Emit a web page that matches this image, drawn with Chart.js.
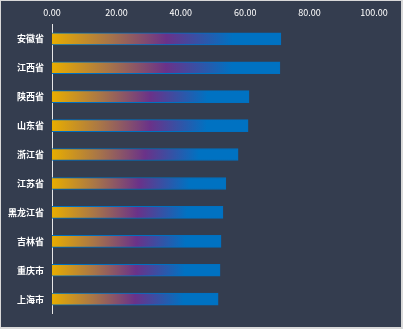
<!DOCTYPE html>
<html>
<head>
<meta charset="utf-8">
<script src="https://cdn.jsdelivr.net/npm/chart.js@4/dist/chart.umd.min.js"></script>
<style>
  html, body {
    margin: 0;
    padding: 0;
    background: #d9d9d9;
  }
  #wrap {
    position: absolute;
    left: 1px;
    top: 1px;
    width: 400px;
    height: 326px;
    background: #343d4f;
  }
</style>
</head>
<body>
<div id="wrap"><canvas id="chart"></canvas></div>
<script>
const provinces = ["安徽省", "江西省", "陕西省", "山东省", "浙江省", "江苏省", "黑龙江省", "吉林省", "重庆市", "上海市"];
const scores = [71.1, 70.8, 61.2, 60.9, 57.8, 54.0, 53.1, 52.5, 52.2, 51.6];
const xTicks = [0, 20, 40, 60, 80, 100];

const FONT = "'Noto Sans CJK SC', 'Noto Sans', sans-serif";

/* =========================
   BAR FILL
   gradient runs over each bar's own length
========================= */
function barFill(context) {
  const chart = context.chart;
  const x = chart.scales.x;
  if (!x || context.dataIndex === undefined) return "#0070c0";

  const v = scores[context.dataIndex];
  const x0 = x.getPixelForValue(0);
  const x1 = x.getPixelForValue(v);
  if (!isFinite(x0) || !isFinite(x1) || x1 <= x0) return "#0070c0";

  const g = chart.ctx.createLinearGradient(x0, 0, x1, 0);
  g.addColorStop(0, "#e8ad00");
  g.addColorStop(0.25, "#a87548");
  g.addColorStop(0.5, "#6a3289");
  g.addColorStop(0.79, "#0072c2");
  g.addColorStop(1, "#0072c2");
  return g;
}

new Chart(document.getElementById("chart"), {
  type: "bar",
  data: {
    labels: provinces,
    datasets: [
      {
        data: scores,
        backgroundColor: barFill,
        borderColor: "#0070c0",
        borderWidth: 1,
        borderSkipped: "start",
        barThickness: 12,
      },
    ],
  },
  options: {
    indexAxis: "y",
    responsive: true,
    maintainAspectRatio: false,
    animation: false,
    layout: {
      padding: { left: 0, top: 0, right: 27, bottom: 10.7 },
    },
    plugins: {
      legend: { display: false },
      tooltip: { enabled: false },
    },
    scales: {
      x: {
        position: "top",
        min: 0,
        max: 100,
        afterBuildTicks: (scale) => {
          scale.ticks = xTicks.map((v) => ({ value: v }));
        },
        afterFit: (scale) => {
          scale.height = 23.4;
        },
        grid: { display: false, drawTicks: false },
        border: { display: false },
        ticks: {
          color: "#ffffff",
          padding: 6,
          font: { family: FONT, size: 9 },
          callback: (v) => Number(v).toFixed(2),
        },
      },
      y: {
        afterFit: (scale) => {
          scale.width = 51;
        },
        grid: { display: false, drawTicks: false },
        border: { display: true, color: "#e6e6e6", width: 1 },
        ticks: {
          color: "#ffffff",
          padding: 8,
          font: { family: FONT, size: 9, weight: "bold" },
        },
      },
    },
  },
});
</script>
</body>
</html>
